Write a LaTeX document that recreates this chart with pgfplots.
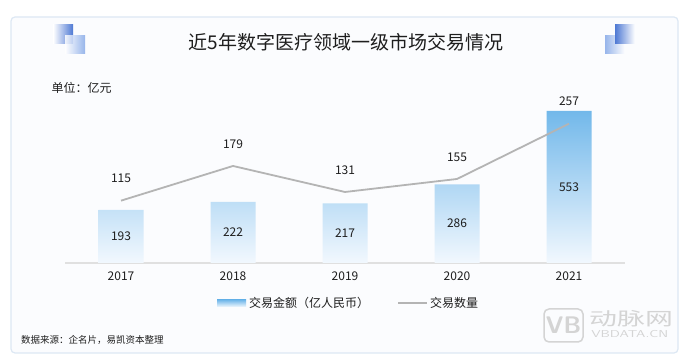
\documentclass[border=0pt]{standalone}
\usepackage{pgfplots}
\pgfplotsset{compat=1.18}
\usepackage{fontspec}
\newfontfamily\cjk{Noto Sans CJK SC}
\definecolor{barTop}{HTML}{72B8EA}
\definecolor{barBot}{HTML}{F2F8FE}
\definecolor{lineC}{HTML}{B4B4B4}
\definecolor{cardB}{HTML}{DDE8F4}
\definecolor{cardF}{HTML}{FBFCFE}
\definecolor{txt}{HTML}{1E1E1E}
\definecolor{decoD}{HTML}{4E79D4}
\definecolor{decoL}{HTML}{86A9E8}
\definecolor{wm}{HTML}{D4D4D4}
\begin{document}
\begin{tikzpicture}[x=1pt,y=1pt,font=\cjk]
\useasboundingbox (0,0) rectangle (690,361);
\path[fill=white] (0,0) rectangle (690,361);
\draw[cardB, fill=cardF, rounded corners=4pt, line width=1.2pt] (11,8) rectangle (678,344);
% decorations left
\shade[left color=white, right color=decoD] (53,317) rectangle (73,336);
\shade[left color=white, right color=decoL, opacity=0.85] (65,307) rectangle (85,325);
% decorations right
\shade[left color=decoL, right color=white, opacity=0.85] (605,307) rectangle (625,325);
\shade[left color=decoD, right color=white] (615,317) rectangle (635,336);
% title
\node[font=\cjk\fontsize{19}{22}\selectfont, text=txt] at (346,319) {近5年数字医疗领域一级市场交易情况};
\node[anchor=west, font=\cjk\fontsize{12}{14}\selectfont, text=txt] at (48,273) {单位：亿元};
% bar axis
\begin{axis}[at={(65pt,98pt)}, anchor=south west, width=560pt, height=163pt, scale only axis,
  xmin=-0.5, xmax=4.5, ymin=0, ymax=592.7,
  axis y line=none, axis x line*=bottom,
  x axis line style={draw=black!12, line width=1.8pt, -},
  xtick={0,1,2,3,4}, xticklabels={2017,2018,2019,2020,2021},
  major tick length=0pt,
  xticklabel style={font=\cjk\fontsize{12}{14}\selectfont, text=txt, yshift=-5pt},
  /pgf/number format/assume math mode=true,
  clip=false]
\addplot[ybar, bar width=45pt, draw=none, top color=barTop, bottom color=barBot]
  coordinates {(0,193) (1,222) (2,217) (3,286) (4,553)};
\addplot[draw=none, mark=none, nodes near coords, point meta=explicit,
  every node near coord/.style={anchor=center, font=\cjk\fontsize{12}{14}\selectfont, text=txt}]
  coordinates {(0,96.5)[193] (1,111)[222] (2,108.5)[217] (3,143)[286] (4,276.5)[553]};
\end{axis}
% line axis
\begin{axis}[at={(65pt,98pt)}, anchor=south west, width=560pt, height=163pt, scale only axis,
  xmin=-0.5, xmax=4.5, ymin=0, ymax=300.7,
  hide axis,
  /pgf/number format/assume math mode=true,
  clip=false]
\addplot[lineC, line width=1.8pt, mark=none, nodes near coords,
  every node near coord/.style={anchor=center, yshift=22pt, font=\cjk\fontsize{12}{14}\selectfont, text=txt}]
  coordinates {(0,115) (1,179) (2,131) (3,155) (4,257)};
\end{axis}
% legend
\shade[top color=barTop, bottom color=barBot] (217,54) rectangle (246,61);
\node[anchor=west, font=\cjk\fontsize{12}{14}\selectfont, text=txt, inner sep=0pt] at (249,58) {交易金额（亿人民币）};
\draw[lineC, line width=1.8pt] (398,58) -- (427,58);
\node[anchor=west, font=\cjk\fontsize{12}{14}\selectfont, text=txt, inner sep=0pt] at (430,58) {交易数量};
% footer
\node[anchor=west, font=\cjk\fontsize{9.5}{11}\selectfont, text=txt, inner sep=0pt] at (21,21) {数据来源：企名片，易凯资本整理};
% watermark
\draw[wm, line width=1.5pt, rounded corners=5pt] (544,19) rectangle (583,52);
\node[font=\sffamily\bfseries\fontsize{24}{26}\selectfont, text=wm] at (563.5,35.5) {VB};
\node[anchor=west, font=\cjk\fontsize{18}{20}\selectfont, text=wm, inner sep=0pt, xscale=1.55] at (589,42.5) {动脉网};
\node[anchor=west, font=\sffamily\fontsize{10}{11}\selectfont, text=wm, inner sep=0pt, xscale=1.4] at (591,27) {VBDATA.CN};
\end{tikzpicture}
\end{document}
